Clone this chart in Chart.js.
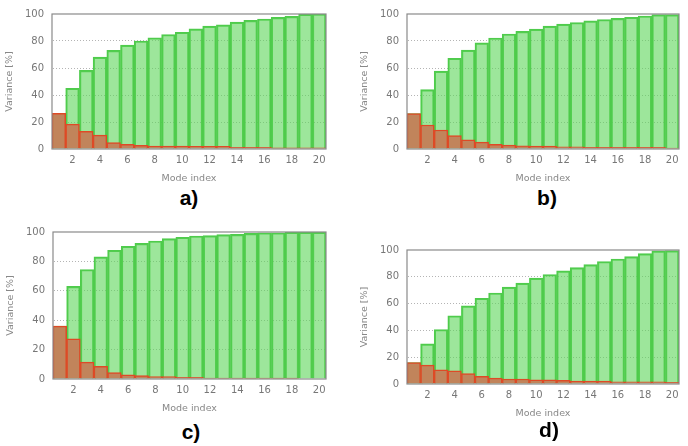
<!DOCTYPE html>
<html lang="en">
<head>
<meta charset="UTF-8">
<title>Variance per mode</title>
<script src="https://cdn.jsdelivr.net/npm/chart.js"></script>
<style>
body{margin:0;padding:0;background:#fff;width:688px;height:446px;overflow:hidden;position:relative;font-family:"Liberation Sans",Arial,sans-serif;}
.panel{position:absolute;}
.tag{position:absolute;font-weight:bold;font-size:21px;color:#000;transform:translateX(-50%);line-height:1;}
</style>
</head>
<body>
<div class="panel" style="left:0;top:0;width:340px;height:186px;"><canvas id="chartA"></canvas></div>
<div class="panel" style="left:355px;top:0;width:338px;height:186px;"><canvas id="chartB"></canvas></div>
<div class="panel" style="left:1px;top:218px;width:339px;height:198px;"><canvas id="chartC"></canvas></div>
<div class="panel" style="left:355px;top:236px;width:338px;height:185px;"><canvas id="chartD"></canvas></div>
<div class="tag" style="left:189px;top:187px;">a)</div>
<div class="tag" style="left:547px;top:187px;">b)</div>
<div class="tag" style="left:191px;top:421px;">c)</div>
<div class="tag" style="left:549px;top:419px;">d)</div>
<script>
// mode indices 1..20, only even ones get a label
const modes = ['1','2','3','4','5','6','7','8','9','10','11','12','13','14','15','16','17','18','19','20'];
const xTickLabels = ['2','4','6','8','10','12','14','16','18','20'];
const yTicks = [0,20,40,60,80,100];

// panel a)
const individualA = [26.5,18.4,13,10.3,4.7,3.4,2.7,2.2,2.2,2.2,2,2,2,1.2,1.2,1.2,0.8,0.8,0.8,0.8];
const cumulativeA = [26.5,45,58.3,68,73,77,80,82.4,84.8,86.5,89,91,92,94,95.3,96.3,97.5,98.3,99.8,100];
// panel b)
const individualB = [26.3,17.8,14.1,10,6.8,5.1,3.4,2.9,2.4,2.2,2.2,1.7,1.7,1.2,1.2,1.2,1.2,1.2,1.2,0.7];
const cumulativeB = [26.3,44,57.7,67.2,73.2,78.6,82.2,85.2,87.1,88.8,91,92.5,93.7,94.9,95.9,96.8,97.6,98.5,99.5,99.5];
// panel c)
const individualC = [36,27.3,11.5,8.6,4.3,2.9,2.3,1.6,1.6,1.1,1.1,0.7,0.6,0.6,0.6,0.6,0.6,0.6,0.3,0.3];
const cumulativeC = [36,63,74.5,83.1,87.6,90.3,92.3,93.9,95.5,96.4,97.3,97.5,98.2,98.4,99.1,99.5,99.5,99.8,99.8,99.8];
// panel d)
const individualD = [16,14.1,10.6,9.9,7.7,5.7,4.4,3.7,3.7,3.2,3.2,2.7,2.2,2.2,2.2,1.7,1.7,1.7,1.7,1.2];
const cumulativeD = [16,29.9,40.7,50.9,58.3,64,67.9,72.3,75.3,79,81.7,84.4,86.9,89.1,91.4,93.3,95,97.3,99.3,99.5];

// box around the plot area, like gnuplot's border
const frame = {
  id: 'frame',
  afterDatasetsDraw(chart) {
    const a = chart.chartArea, ctx = chart.ctx;
    ctx.save();
    ctx.strokeStyle = '#8a8a8a';
    ctx.lineWidth = 1.2;
    ctx.strokeRect(a.left, a.top, a.right - a.left, a.bottom - a.top);
    ctx.restore();
  }
};

function makePanel(id, individual, cumulative, xH) {
  new Chart(document.getElementById(id), {
    type: 'bar',
    data: {
      labels: modes,
      datasets: [
        {label: 'individual', data: individual, backgroundColor: '#c1845b', borderColor: '#de4a26', borderWidth: {top: 1.5, left: 1.5, right: 1.5, bottom: 0}, grouped: false, barPercentage: 1, categoryPercentage: 1},
        {label: 'cumulative', data: cumulative, backgroundColor: 'rgba(92,214,88,0.6)', borderColor: '#4fcb4c', borderWidth: {top: 1.5, left: 1.5, right: 1.5, bottom: 0}, grouped: false, barPercentage: 1, categoryPercentage: 1}
      ]
    },
    options: {
      responsive: true,
      maintainAspectRatio: false,
      animation: false,
      layout: {padding: {top: 13, right: 14, left: 0, bottom: 0}},
      plugins: {legend: {display: false}, tooltip: {enabled: false}},
      scales: {
        x: {
          grid: {display: false, drawTicks: false},
          border: {display: false},
          ticks: {
            autoSkip: false, maxRotation: 0, padding: 5, color: '#777',
            font: {family: 'DejaVu Sans', size: 10},
            callback: function(v) { const l = modes[v]; return xTickLabels.includes(l) ? l : ''; }
          },
          title: {display: true, text: 'Mode index', color: '#888', font: {family: 'DejaVu Sans', size: 9.5}, padding: {top: 0, bottom: 2}},
          afterFit: s => { s.height = xH; }
        },
        y: {
          min: 0, max: 100,
          afterBuildTicks: s => { s.ticks = yTicks.map(v => ({value: v})); },
          grid: {color: c => (c.tick.value === 0 || c.tick.value === 100) ? 'rgba(0,0,0,0)' : '#b4b4b4', drawTicks: false, lineWidth: 1, borderDash: [1, 2]},
          border: {display: true, color: 'rgba(0,0,0,0)', dash: [1, 2]},
          ticks: {padding: 8, color: '#777', font: {family: 'DejaVu Sans', size: 10}},
          title: {display: true, text: 'Variance [%]', color: '#888', font: {family: 'DejaVu Sans', size: 9.5}, padding: {top: 4, bottom: 0}},
          afterFit: s => { s.width = 52; }
        }
      }
    },
    plugins: [frame]
  });
}

makePanel('chartA', individualA, cumulativeA, 37);
makePanel('chartB', individualB, cumulativeB, 37);
makePanel('chartC', individualC, cumulativeC, 37);
makePanel('chartD', individualD, cumulativeD, 37);
</script>
</body>
</html>
